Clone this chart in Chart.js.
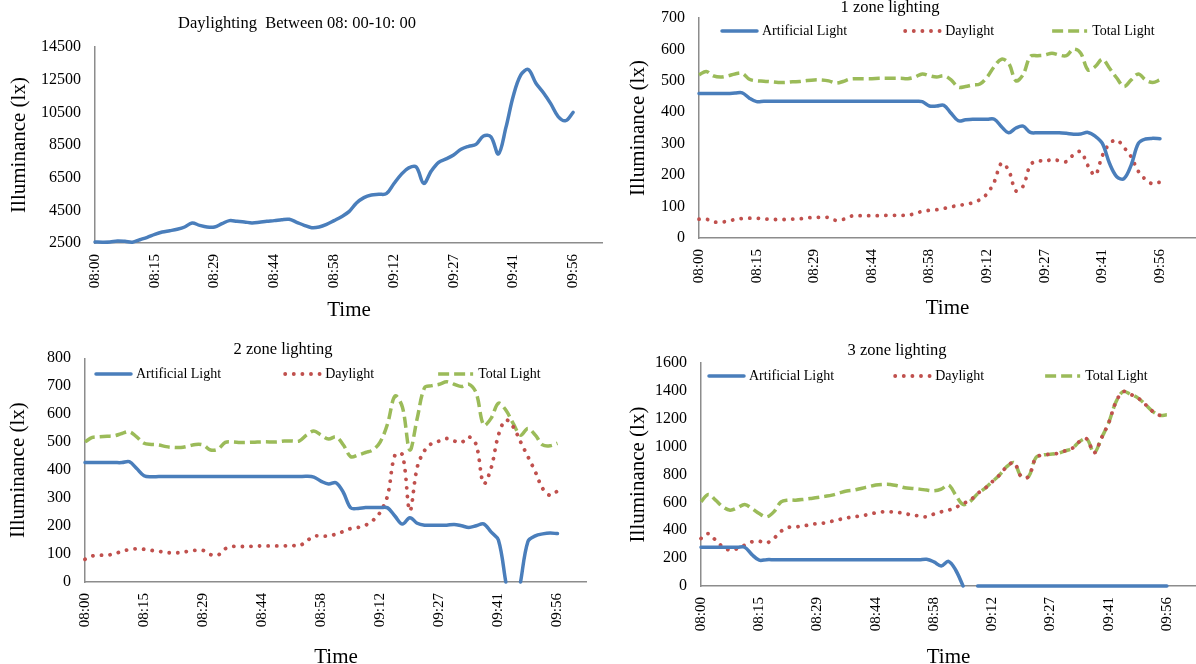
<!DOCTYPE html>
<html>
<head>
<meta charset="utf-8">
<script src="https://cdn.jsdelivr.net/npm/chart.js@4.4.1/dist/chart.umd.min.js"></script>
<style>
  html, body { margin: 0; padding: 0; background: #fff; }
  body { width: 1196px; height: 664px; position: relative; overflow: hidden; }
  canvas { position: absolute; }
</style>
</head>
<body>
<canvas id="c1"></canvas>
<canvas id="c2"></canvas>
<canvas id="c3"></canvas>
<canvas id="c4"></canvas>
<script>
// time axis: one label every 8 readings
const timeTicks = ['08:00', '08:15', '08:29', '08:44', '08:58', '09:12', '09:27', '09:41', '09:56'];
const pointsPerTick = 8;

// chart 1 - daylight only
const yTicksAll = [2500, 4500, 6500, 8500, 10500, 12500, 14500];
const daylightAll = [
  2560, 2550, 2560, 2620, 2600, 2550, 2700, 2850, 3030, 3170,
  3250, 3340, 3480, 3720, 3580, 3480, 3480, 3680, 3870, 3830,
  3790, 3730, 3770, 3830, 3870, 3930, 3950, 3770, 3580, 3440,
  3480, 3640, 3870, 4110, 4420, 4950, 5280, 5440, 5480, 5520,
  6130, 6700, 7100, 7150, 6150, 6900, 7440, 7650, 7890, 8240,
  8420, 8540, 9050, 9000, 7950, 9560, 11520, 12790, 13120, 12300,
  11710, 11030, 10240, 9990, 10500
];

// chart 2 - 1 zone lighting
const yTicks1 = [0, 100, 200, 300, 400, 500, 600, 700];
const artificial1 = [
  460, 460, 460, 460, 460, 461, 462, 445, 434, 435,
  435, 435, 435, 435, 435, 435, 435, 435, 435, 435,
  435, 435, 435, 435, 435, 435, 435, 435, 435, 435,
  435, 434, 420, 420, 422, 397, 373, 376, 378, 378,
  378, 378, 354, 335, 350, 356, 336, 335, 335, 335,
  335, 333, 330, 331, 336, 324, 301, 237, 195, 189,
  232, 301, 315, 317, 316
];
const daylight1 = [
  60, 60, 51, 51, 53, 59, 62, 63, 63, 61,
  59, 59, 59, 60, 61, 64, 65, 66, 65, 56,
  59, 69, 71, 71, 71, 71, 72, 72, 72, 72,
  78, 85, 88, 90, 94, 99, 104, 107, 112, 122,
  141, 179, 238, 215, 150, 165, 232, 246, 243, 250,
  246, 243, 265, 275, 230, 200, 262, 300, 312, 288,
  258, 212, 186, 172, 178
];
const total1 = [
  519, 530, 516, 512, 516, 522, 524, 505, 500, 499,
  497, 495, 495, 497, 498, 501, 503, 503, 500, 493,
  498, 506, 507, 507, 507, 508, 508, 508, 508, 507,
  512, 522, 516, 512, 516, 503, 480, 482, 487, 490,
  512, 546, 569, 556, 500, 520, 578, 580, 582, 588,
  582, 580, 601, 588, 535, 545, 569, 540, 509, 482,
  503, 522, 503, 495, 503
];

// chart 3 - 2 zone lighting (null = nothing drawn in the original)
const yTicks2 = [0, 100, 200, 300, 400, 500, 600, 700, 800];
const artificial2 = [
  427, 427, 427, 427, 427, 427, 430, 406, 380, 376,
  377, 377, 377, 377, 377, 377, 377, 377, 377, 377,
  377, 377, 377, 377, 377, 377, 377, 377, 377, 377,
  378, 375, 360, 350, 355, 320, 265, 263, 266, 266,
  266, 265, 235, 207, 230, 210, 203, 203, 203, 203,
  206, 201, 195, 201, 208, 179, 150, 0, null, 0,
  145, 165, 172, 175, 173
];
const daylight2 = [
  81, 93, 96, 96, 101, 110, 116, 119, 117, 113,
  110, 105, 105, 105, 110, 113, 113, 98, 96, 119,
  127, 127, 127, 128, 129, 129, 129, 129, 131, 129,
  146, 164, 164, 165, 171, 181, 191, 195, 203, 220,
  250, 310, 455, 455, 255, 410, 470, 496, 504, 513,
  504, 499, 519, 490, 352, 406, 525, 579, 555, 501,
  448, 394, 334, 310, 325
];
const total2 = [
  501, 517, 519, 521, 523, 531, 537, 519, 496, 492,
  490, 484, 481, 481, 486, 492, 490, 472, 475, 499,
  501, 499, 499, 500, 501, 501, 501, 504, 504, 504,
  525, 540, 525, 511, 519, 490, 448, 454, 463, 472,
  501, 567, 665, 625, 472, 585, 695, 702, 707, 716,
  707, 699, 707, 675, 561, 585, 639, 615, 567, 525,
  549, 525, 490, 487, 496
];

// chart 4 - 3 zone lighting
const yTicks3 = [0, 200, 400, 600, 800, 1000, 1200, 1400, 1600];
const artificial3 = [
  278, 278, 278, 278, 278, 278, 278, 225, 185, 189,
  189, 189, 189, 189, 189, 189, 189, 189, 189, 189,
  189, 189, 189, 189, 189, 189, 189, 189, 189, 189,
  189, 192, 173, 144, 177, 113, 0, null, 0, 0,
  0, 0, 0, 0, 0, 0, 0, 0, 0, 0,
  0, 0, 0, 0, 0, 0, 0, 0, 0, 0,
  0, 0, 0, 0, 0
];
const daylight3 = [
  341, 376, 329, 281, 257, 269, 293, 317, 321, 309,
  341, 393, 420, 424, 429, 441, 448, 453, 465, 477,
  489, 496, 504, 513, 525, 532, 532, 528, 520, 508,
  504, 496, 516, 532, 544, 564, 592, 616, 664, 700,
  748, 796, 856, 885, 785, 785, 921, 940, 945, 952,
  969, 988, 1036, 1055, 955, 1060, 1170, 1320, 1395, 1375,
  1350, 1305, 1255, 1225, 1228
];
const total3 = [
  604, 657, 616, 568, 544, 561, 585, 556, 520, 496,
  532, 604, 616, 616, 621, 628, 635, 643, 652, 667,
  681, 688, 700, 712, 724, 729, 729, 719, 705, 700,
  695, 688, 683, 695, 724, 652, 585, 608, 662, 700,
  748, 796, 856, 885, 785, 785, 921, 940, 945, 952,
  969, 988, 1036, 1055, 955, 1060, 1170, 1320, 1395, 1375,
  1350, 1305, 1255, 1225, 1228
];

const FONT = "'Liberation Serif', 'Times New Roman', serif";
const TITLE_SIZE = 16.5;
const AXIS_TITLE_SIZE = 21;
Chart.defaults.font.family = FONT;
Chart.defaults.color = '#000';

const lineStyles = {
  artificial: { label: 'Artificial Light', borderColor: '#4a7ebb', borderWidth: 3.5, borderCapStyle: 'round', borderJoinStyle: 'round' },
  daylight: { label: 'Daylight', borderColor: '#c0504d', borderWidth: 3.8, borderDash: [0.1, 8.5], borderCapStyle: 'round' },
  total: { label: 'Total Light', borderColor: '#9bbb59', borderWidth: 3.5, borderDash: [11, 5], borderCapStyle: 'butt' }
};

// page positions of each panel (px)
const layouts = {
  c1: { x: -9, y: 0, w: 612, h: 330, plotLeft: 95, plotTop: 47, plotBottom: 243, titleY: 24, yTitleX: 19, xTitleY: 310, slots: 69 },
  c2: { x: 584, y: -10, w: 612, h: 340, plotLeft: 699, plotTop: 18, plotBottom: 238, titleY: 7.5, yTitleX: 638, xTitleY: 308, slots: 70,
        legend: { x: 722, y: 31, gap: 58 } },
  c3: { x: -21, y: 328, w: 608, h: 347, plotLeft: 85, plotTop: 358, plotBottom: 582, titleY: 350, yTitleX: 18, xTitleY: 657, slots: 69,
        legend: { x: 96, y: 374, gap: 64 } },
  c4: { x: 598, y: 328, w: 598, h: 347, plotLeft: 701, plotTop: 363, plotBottom: 586, titleY: 351, yTitleX: 638, xTitleY: 657, slots: 69,
        legend: { x: 709, y: 376, gap: 61 } }
};

// legend drawn inside the plot, like the spreadsheet original
const insideLegend = {
  id: 'insideLegend',
  afterDraw(chart, args, opts) {
    if (!opts.show) return;
    const ctx = chart.ctx;
    ctx.save();
    ctx.font = opts.fontSize + 'px ' + FONT;
    ctx.textBaseline = 'middle';
    let x = opts.x;
    chart.data.datasets.forEach(ds => {
      ctx.beginPath();
      ctx.strokeStyle = ds.borderColor;
      ctx.lineWidth = ds.borderWidth;
      ctx.lineCap = ds.borderCapStyle || 'butt';
      ctx.setLineDash(ds.borderDash || []);
      ctx.moveTo(x, opts.y);
      ctx.lineTo(x + opts.lineLength, opts.y);
      ctx.stroke();
      ctx.setLineDash([]);
      ctx.fillStyle = '#000';
      const tx = x + opts.lineLength + opts.textGap;
      ctx.fillText(ds.label, tx, opts.y);
      x = tx + ctx.measureText(ds.label).width + opts.gap;
    });
    ctx.restore();
  }
};

function timeLabels(slots) {
  const labels = [];
  for (let i = 0; i < slots; i++) {
    labels.push(i % pointsPerTick === 0 && timeTicks[i / pointsPerTick] || '');
  }
  return labels;
}

function makeChart(id, title, yTicks, series) {
  const L = layouts[id];
  const canvas = document.getElementById(id);
  canvas.width = L.w;
  canvas.height = L.h;
  canvas.style.left = L.x + 'px';
  canvas.style.top = L.y + 'px';

  const plotLeft = L.plotLeft - L.x;
  const plotTop = L.plotTop - L.y;
  const plotBottom = L.plotBottom - L.y;
  const titlePadTop = L.titleY - L.y - TITLE_SIZE / 2;
  const titlePadBottom = Math.max(0, plotTop - titlePadTop - TITLE_SIZE);
  const xAxisHeight = L.h - plotBottom;

  const datasets = series.map(s => Object.assign({}, lineStyles[s.style], {
    data: s.data,
    tension: 0.35,
    pointRadius: 0,
    pointHoverRadius: 0,
    fill: false,
    spanGaps: false,
    clip: 2
  }));

  return new Chart(canvas, {
    type: 'line',
    data: { labels: timeLabels(L.slots), datasets: datasets },
    plugins: [insideLegend],
    options: {
      responsive: false,
      animation: false,
      events: [],
      layout: { padding: 0 },
      elements: { line: { capBezierPoints: false } },
      plugins: {
        legend: { display: false },
        tooltip: { enabled: false },
        title: {
          display: true,
          text: title,
          color: '#000',
          font: { size: TITLE_SIZE, weight: 'normal', lineHeight: 1 },
          padding: { top: titlePadTop, bottom: titlePadBottom }
        },
        insideLegend: L.legend ? {
          show: true, x: L.legend.x - L.x, y: L.legend.y - L.y, gap: L.legend.gap,
          lineLength: 35, textGap: 5, fontSize: 14
        } : { show: false }
      },
      scales: {
        x: {
          type: 'category',
          offset: false,
          grid: { display: false, drawTicks: false },
          border: { display: true, color: '#8c8c8c', width: 1.5 },
          ticks: { autoSkip: false, minRotation: 90, maxRotation: 90, padding: 11, font: { size: 15 }, color: '#000' },
          title: {
            display: true, text: 'Time', color: '#000',
            font: { size: AXIS_TITLE_SIZE, lineHeight: 1 },
            padding: { top: 0, bottom: L.h - (L.xTitleY - L.y) - AXIS_TITLE_SIZE / 2 }
          },
          afterFit(scale) {
            scale.height = xAxisHeight;
            scale.paddingLeft = 0;
            scale.paddingRight = 0;
          }
        },
        y: {
          min: yTicks[0],
          max: yTicks[yTicks.length - 1],
          grid: { display: false, drawTicks: false },
          border: { display: true, color: '#8c8c8c', width: 1.5 },
          ticks: { padding: 14, font: { size: 16 }, color: '#000', callback: v => String(v) },
          afterBuildTicks(scale) {
            scale.ticks = yTicks.map(v => ({ value: v }));
          },
          title: {
            display: true, text: 'Illuminance (lx)', color: '#000',
            font: { size: AXIS_TITLE_SIZE, lineHeight: 1 },
            padding: { top: (L.yTitleX - L.x) - AXIS_TITLE_SIZE / 2, bottom: 0 }
          },
          afterFit(scale) {
            scale.width = plotLeft;
            scale.paddingTop = 0;
            scale.paddingBottom = 0;
          }
        }
      }
    }
  });
}

makeChart('c1', 'Daylighting  Between 08: 00-10: 00', yTicksAll, [
  { style: 'artificial', data: daylightAll }
]);
makeChart('c2', '1 zone lighting', yTicks1, [
  { style: 'artificial', data: artificial1 },
  { style: 'daylight', data: daylight1 },
  { style: 'total', data: total1 }
]);
makeChart('c3', '2 zone lighting', yTicks2, [
  { style: 'artificial', data: artificial2 },
  { style: 'daylight', data: daylight2 },
  { style: 'total', data: total2 }
]);
makeChart('c4', '3 zone lighting', yTicks3, [
  { style: 'artificial', data: artificial3 },
  { style: 'daylight', data: daylight3 },
  { style: 'total', data: total3 }
]);
</script>
</body>
</html>
